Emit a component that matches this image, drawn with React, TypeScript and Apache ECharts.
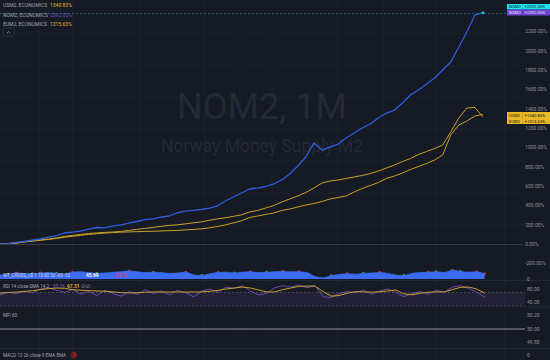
import React, { useEffect, useRef } from "react";
import * as echarts from "echarts";

// ---------- data ----------
const periods = [
  "1994-01","1994-07","1995-01","1995-07","1996-01","1996-07","1997-01","1997-07","1998-01","1998-07",
  "1999-01","1999-07","2000-01","2000-07","2001-01","2001-07","2002-01","2002-07","2003-01","2003-07",
  "2004-01","2004-07","2005-01","2005-07","2006-01","2006-07","2007-01","2007-07","2008-01","2008-07",
  "2009-01","2009-07","2010-01","2010-07","2011-01","2011-07","2012-01","2012-07","2013-01","2013-07",
  "2014-01","2014-07","2015-01","2015-07","2016-01","2016-07","2017-01","2017-07","2018-01","2018-07",
  "2019-01","2019-07","2020-01","2020-07","2021-01","2021-07","2022-01","2022-07","2023-01","2023-07",
  "2024-01","2024-07","2025-01","2025-07","2026-01","2026-07",
];

// % change, Norway M2
const nom2 = [
  0, 5, 16, 26, 41, 52, 72, 88, 114, 124,
  134, 155, 171, 166, 186, 197, 217, 233, 253, 259,
  279, 290, 321, 341, 347, 357, 372, 393, 445, 486,
  528, 569, 579, 595, 621, 662, 724, 807, 900, 1045,
  972, 1003, 1034, 1097, 1148, 1200, 1241, 1303, 1355, 1386,
  1459, 1541, 1593, 1655, 1717, 1800, 1883, 2038, 2193, 2369,
  2392.05,
];

// % change, US M2
const usm2 = [
  0, 5, 10, 21, 31, 38, 47, 57, 70, 80,
  89, 99, 106, 113, 118, 123, 125, 128, 130, 132,
  135, 138, 141, 146, 151, 157, 167, 182, 198, 219,
  240, 274, 290, 305, 321, 347, 362, 383, 403, 419,
  440, 466, 481, 497, 538, 574, 605, 636, 678, 703,
  734, 771, 802, 833, 869, 921, 1128, 1231, 1272, 1324,
  1340.83,
];

// % change, Euro area M2
const eum2 = [
  0, 5, 10, 21, 31, 42, 52, 63, 78, 89,
  99, 109, 115, 120, 125, 130, 141, 151, 161, 172,
  182, 193, 198, 208, 219, 229, 245, 260, 271, 286,
  302, 331, 347, 372, 398, 434, 466, 497, 533, 579,
  631, 652, 662, 678, 693, 709, 729, 755, 786, 817,
  853, 884, 926, 957, 988, 1024, 1159, 1303, 1407, 1412,
  1315.63,
];

const wtValues = [
  5, 6, 7.5, 7, 6.5, 7.5, 8, 7, 6.5, 8.5,
  9, 8, 7, 7.5, 8.5, 9, 10, 9, 8, 8.5,
  8, 7, 7.5, 8.5, 5, 4.5, 6.5, 8, 8.5, 7.5,
  8.5, 9, 8, 8.5, 9, 9.5, 9, 9, 8, 3,
  1.5, 4, 5.5, 6.5, 6, 7, 7.5, 8, 7, 5,
  4.5, 7, 8, 8.5, 9, 8, 11, 9.5, 8.5, 9,
  6.5,
];
const wtRedIdx = [2, 5, 9, 16, 23, 27, 31, 35, 37, 43, 47, 53, 56, 59, 60];
const wtGreenIdx = [1, 4, 7, 12, 19, 25, 29, 33, 41, 45, 50, 54, 57];

const rsiValues = [
  62, 70, 66, 74, 68, 80, 84, 76, 70, 78,
  65, 72, 60, 76, 66, 58, 72, 64, 78, 66,
  74, 62, 76, 68, 56, 74, 80, 70, 86, 82,
  90, 74, 62, 66, 84, 90, 86, 92, 84, 90,
  56, 54, 66, 72, 68, 76, 64, 74, 80, 70,
  56, 66, 72, 64, 76, 70, 86, 90, 82, 70,
  55.16,
];
const rsiSma = [
  67.7, 69, 70.5, 72, 75, 78, 81, 83, 82, 78,
  76, 75, 74, 73, 71, 69, 68, 68.5, 70, 71,
  70.5, 70.8, 71, 70.5, 70.8, 71, 73, 76, 80, 83,
  86, 83, 77, 71, 71, 78, 83, 88, 89, 89,
  72, 58, 60, 67, 72, 71, 70.5, 71, 74, 77,
  65, 62, 67, 70, 71, 71, 78, 85, 86, 80,
  67.31,
];

const mainTicks = [-200, 0, 200, 400, 600, 800, 1000, 1200, 1400, 1600, 1800, 2000, 2200];
const wtTicks = [0];
const rsiTicks = [40, 80];
const mfiTicks = [49.8, 50, 50.2];
const macdTicks = [0];

const legendNames = ["USM2, ECONOMICS", "NOM2, ECONOMICS", "EUM2, ECONOMICS"];
const legendSeries = [usm2, nom2, eum2];

// ---------- styles ----------
const BG = "#161a25";
const FONT = 'Roboto, "Noto Sans", Arial, sans-serif';
const AXIS_TXT = "#8f929b";
const GOLD = "#c9a227";
const BLUE = "#2f5ddf";
const PURPLE = "#7e57c2";

const last = (a: number[]) => a[a.length - 1];
const pct = (v: number) => v.toFixed(2) + "%";

function txt(x: number, y: number, text: string, fill: string, size = 5, extra: any = {}) {
  return {
    type: "text",
    x,
    y,
    z: 60,
    silent: true,
    style: { text, fill, fontSize: size, fontFamily: FONT, textAlign: "left", textVerticalAlign: "middle", ...extra },
  };
}

function hline(y: number, x1: number, x2: number, stroke: string, w = 1, z = -5) {
  return { type: "line", z, silent: true, shape: { x1, y1: y, x2, y2: y }, style: { stroke, lineWidth: w } };
}
function vline(x: number, y1: number, y2: number, stroke: string, w = 1, z = -5) {
  return { type: "line", z, silent: true, shape: { x1: x, y1, x2: x, y2 }, style: { stroke, lineWidth: w } };
}

function priceBox(y: number, h: number, fill: string, label: string, value: string, color: string) {
  return [
    { type: "rect", z: 70, silent: true, shape: { x: 507, y, width: 43, height: h }, style: { fill } },
    { type: "line", z: 71, silent: true, shape: { x1: 522.5, y1: y, x2: 522.5, y2: y + h }, style: { stroke: "rgba(0,0,0,0.25)", lineWidth: 0.5 } },
    { ...txt(509, y + h / 2, label, color, 4.2), z: 72 },
    { ...txt(524.5, y + h / 2, value, color, 4.2), z: 72 },
  ];
}

export default function App() {
  const ref = useRef<HTMLDivElement>(null);

  useEffect(() => {
    if (!ref.current) return;
    const chart = echarts.init(ref.current, undefined, { renderer: "svg" });

    const axisLabel = (custom: number[], fmt: (v: number) => string) => ({
      show: true,
      customValues: custom,
      formatter: fmt,
      color: AXIS_TXT,
      fontSize: 5,
      fontFamily: FONT,
      align: "left",
      margin: 2,
    });

    const yBase = {
      type: "value",
      position: "right",
      axisLine: { show: false },
      axisTick: { show: false },
      splitLine: { show: false },
    };

    const gridW = 525;
    const grids = [
      { left: 0, top: 0, width: gridW, height: 268 },
      { left: 0, top: 263, width: gridW, height: 16 },
      { left: 0, top: 282, width: gridW, height: 24 },
      { left: 0, top: 308, width: gridW, height: 40 },
      { left: 0, top: 350, width: gridW, height: 16 },
    ];
    const xAxes = grids.map((_, i) => ({
      type: "category",
      gridIndex: i,
      data: periods,
      boundaryGap: false,
      show: false,
    }));

    const yAxes = [
      { ...yBase, gridIndex: 0, min: -248, max: 2524, axisLabel: axisLabel(mainTicks, (v) => pct(v)) },
      { ...yBase, gridIndex: 1, min: 0, max: 20, axisLabel: axisLabel(wtTicks, (v) => String(v)) },
      { ...yBase, gridIndex: 2, min: 27.7, max: 101.5, axisLabel: axisLabel(rsiTicks, (v) => v.toFixed(2)) },
      { ...yBase, gridIndex: 3, min: 49.711, max: 50.304, axisLabel: axisLabel(mfiTicks, (v) => v.toFixed(2)) },
      { ...yBase, gridIndex: 4, min: -1, max: 1, axisLabel: axisLabel(macdTicks, (v) => String(v)) },
    ];

    const lineBase = { type: "line", symbol: "none", silent: true };

    const series: any[] = [
      {
        ...lineBase,
        name: "EUM2",
        xAxisIndex: 0,
        yAxisIndex: 0,
        data: eum2,
        lineStyle: { color: GOLD, width: 1 },
        z: 3,
        markLine: {
          silent: true,
          symbol: "none",
          label: { show: false },
          lineStyle: { color: "#343844", width: 1, type: "solid" },
          data: [{ yAxis: 0 }],
        },
      },
      {
        ...lineBase,
        name: "USM2",
        xAxisIndex: 0,
        yAxisIndex: 0,
        data: usm2,
        lineStyle: { color: GOLD, width: 1 },
        z: 3,
      },
      {
        ...lineBase,
        name: "NOM2",
        xAxisIndex: 0,
        yAxisIndex: 0,
        data: nom2,
        lineStyle: { color: BLUE, width: 1.3 },
        z: 4,
        markLine: {
          silent: true,
          symbol: "none",
          label: { show: false },
          lineStyle: { color: "#1d5e66", width: 1, type: [2, 2] },
          data: [{ yAxis: last(nom2) }],
        },
      },
      {
        type: "scatter",
        xAxisIndex: 0,
        yAxisIndex: 0,
        silent: true,
        symbolSize: 3,
        itemStyle: { color: "#19e3f0" },
        data: [[nom2.length - 1, last(nom2)]],
        z: 5,
      },
      // WT cross pane
      {
        ...lineBase,
        xAxisIndex: 1,
        yAxisIndex: 1,
        data: wtValues,
        smooth: 0.3,
        lineStyle: { color: "#3b6cf0", width: 0.8 },
        areaStyle: { color: "#3b6cf0", opacity: 1 },
      },
      {
        type: "scatter",
        xAxisIndex: 1,
        yAxisIndex: 1,
        silent: true,
        symbolSize: 3,
        itemStyle: { color: "#f23645" },
        data: wtRedIdx.map((i) => [i, wtValues[i]]),
      },
      {
        type: "scatter",
        xAxisIndex: 1,
        yAxisIndex: 1,
        silent: true,
        symbolSize: 3,
        itemStyle: { color: "#4caf50" },
        data: wtGreenIdx.map((i) => [i, wtValues[i]]),
      },
      // RSI pane
      {
        ...lineBase,
        xAxisIndex: 2,
        yAxisIndex: 2,
        data: rsiValues,
        lineStyle: { color: PURPLE, width: 0.8 },
        markArea: {
          silent: true,
          itemStyle: { color: "rgba(126,87,194,0.12)" },
          data: [[{ yAxis: 30 }, { yAxis: 70 }]],
        },
        markLine: {
          silent: true,
          symbol: "none",
          label: { show: false },
          lineStyle: { color: "rgba(120,123,134,0.55)", width: 0.8, type: [2, 2] },
          data: [{ yAxis: 70 }, { yAxis: 30 }],
        },
      },
      {
        ...lineBase,
        xAxisIndex: 2,
        yAxisIndex: 2,
        data: rsiSma,
        lineStyle: { color: GOLD, width: 1 },
      },
      // MFI pane
      {
        ...lineBase,
        xAxisIndex: 3,
        yAxisIndex: 3,
        data: [],
        markLine: {
          silent: true,
          symbol: "none",
          label: { show: false },
          lineStyle: { color: "#6b6e79", width: 1.5, type: "solid" },
          data: [{ yAxis: 50 }],
        },
      },
      // MACD pane
      { ...lineBase, xAxisIndex: 4, yAxisIndex: 4, data: [] },
    ];

    const vGrid = [39, 73, 139, 205, 240, 272, 338, 383, 436, 505];
    const hGrid = [34, 66, 98, 129, 161, 193, 225];

    const graphics: any[] = [
      ...vGrid.map((x) => vline(x, 0, 360, "#1d212c")),
      ...hGrid.map((y) => hline(y, 0, 525, "#1d212c")),
      hline(280.5, 0, 550, "#242834"),
      hline(307, 0, 550, "#242834"),
      hline(348.5, 0, 550, "#242834"),
      // watermark
      {
        type: "text",
        x: 262,
        y: 107,
        z: -4,
        silent: true,
        style: { text: "NOM2, 1M", fill: "#242936", fontSize: 36, fontFamily: FONT, textAlign: "center", textVerticalAlign: "middle" },
      },
      {
        type: "text",
        x: 262,
        y: 146,
        z: -4,
        silent: true,
        style: { text: "Norway Money Supply M2", fill: "#242936", fontSize: 17.5, fontFamily: FONT, textAlign: "center", textVerticalAlign: "middle" },
      },
      // legend
      ...legendNames.flatMap((name, i) => {
        const y = 5 + i * 9.5;
        const color = i === 1 ? "#6a4fc0" : "#e0b22a";
        return [txt(3, y, name, "#a3a6af", 5), txt(50, y, pct(last(legendSeries[i])), color, 5)];
      }),
      {
        type: "rect",
        z: 60,
        silent: true,
        shape: { x: 3, y: 28, width: 11, height: 8, r: 1.5 },
        style: { fill: "none", stroke: "#363a45", lineWidth: 0.8 },
      },
      {
        type: "polyline",
        z: 61,
        silent: true,
        shape: { points: [[7, 33], [8.5, 31.5], [10, 33]] },
        style: { fill: "none", stroke: "#a3a6af", lineWidth: 0.7 },
      },
      // price boxes
      ...priceBox(4, 5.5, "#1ee3ef", "NOM2", "+" + pct(last(nom2)), "#131722"),
      ...priceBox(9.5, 6, "#6c45d4", "NOM2", "+" + pct(last(nom2)), "#e8e3f7"),
      ...priceBox(112, 6, "#e9b824", "USM2", "+" + pct(last(usm2)), "#131722"),
      ...priceBox(118, 6, "#e9b824", "EUM2", "+" + pct(last(eum2)), "#131722"),
      // pane labels
      txt(3, 275.5, "WT_CROSS_LB 1 10 60 53 -60 -53", "#d1d4dc", 4.5),
      txt(86, 275.5, "45.99", "#ffffff", 4.8, { fontWeight: "bold" }),
      txt(115, 275.5, "40.96", "#f23645", 4.8),
      txt(3, 286, "RSI 14 close SMA 14 2", "#a3a6af", 4.6),
      txt(53, 286, "55.16", PURPLE, 4.8),
      txt(67, 286, "67.31", "#e0b22a", 4.8, { fontWeight: "bold" }),
      txt(81, 286, "\u2205 \u2205", "#a3a6af", 4.6),
      txt(3, 315.5, "MFI 60", "#a3a6af", 4.6),
      txt(3, 355, "MACD 12 26 close 9 EMA EMA", "#a3a6af", 4.6),
      {
        type: "circle",
        z: 60,
        silent: true,
        shape: { cx: 74, cy: 355, r: 3 },
        style: { fill: "#5e1a22", stroke: "#b3262f", lineWidth: 0.6 },
      },
      { ...txt(74, 355, "!", "#f23645", 4.5, { textAlign: "center", fontWeight: "bold" }) },
    ];

    chart.setOption({
      animation: false,
      backgroundColor: BG,
      grid: grids,
      xAxis: xAxes,
      yAxis: yAxes,
      series,
      graphic: { elements: graphics },
    });

    return () => chart.dispose();
  }, []);

  return (
    <div
      ref={ref}
      style={{ position: "fixed", left: 0, top: 0, width: 550, height: 360, background: BG }}
    />
  );
}
